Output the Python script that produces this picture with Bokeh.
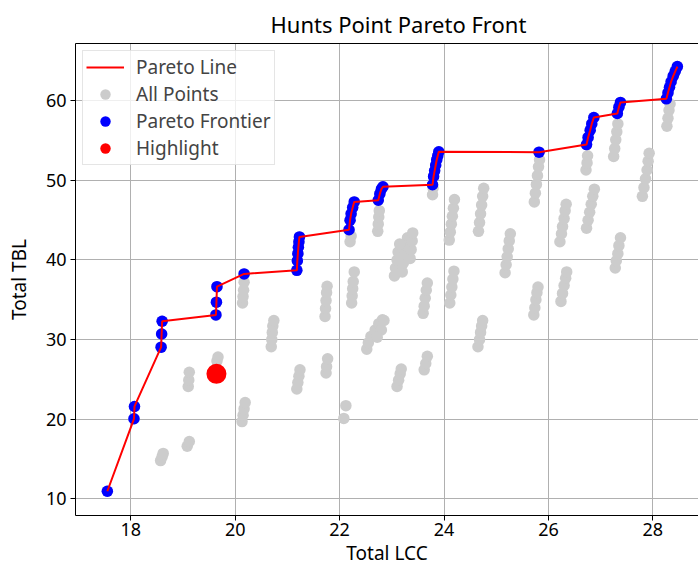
from bokeh.plotting import figure
from bokeh.models import (Legend, LegendItem, LinearAxis, FixedTicker, Range1d)
from bokeh.embed import file_html
from bokeh.resources import INLINE

# ---- data ----
# Pareto frontier points (sorted by Total LCC); the Pareto line joins them
front_lcc = [17.55,
             18.06, 18.07,
             18.58, 18.59, 18.60,
             19.63, 19.64, 19.65,
             20.17,
             21.18, 21.19, 21.20, 21.21, 21.22, 21.23,
             22.18, 22.20, 22.22, 22.25, 22.28,
             22.74, 22.77, 22.80, 22.83,
             23.78, 23.80, 23.82, 23.84, 23.86, 23.88, 23.90,
             25.82,
             26.73, 26.76, 26.80, 26.83, 26.87,
             27.32, 27.35, 27.38,
             28.26, 28.29, 28.32, 28.35, 28.39, 28.43, 28.47]
front_tbl = [10.95,
             20.05, 21.6,
             29.05, 30.7, 32.3,
             33.1, 34.7, 36.65,
             38.25,
             38.7, 39.9, 40.8, 41.6, 42.3, 42.9,
             43.8, 45.0, 45.8, 46.6, 47.3,
             47.5, 48.3, 48.9, 49.2,
             49.45, 50.5, 51.2, 51.9, 52.6, 53.1, 53.6,
             53.55,
             54.5, 55.4, 56.3, 57.1, 57.9,
             58.4, 59.2, 59.8,
             60.25, 61.0, 61.7, 62.4, 63.1, 63.7, 64.3]

# dominated solutions (grey), cluster by cluster
other_lcc = [18.57, 18.60, 18.62,
             19.08, 19.12,
             19.10, 19.11, 19.12,
             19.65, 19.67,
             20.13, 20.15, 20.17, 20.19,
             20.14, 20.15, 20.16, 20.17,
             20.69, 20.70, 20.71, 20.72, 20.74,
             21.18, 21.20, 21.22, 21.24,
             21.72, 21.73, 21.74, 21.75, 21.76,
             21.74, 21.75, 21.77,
             22.08, 22.12,
             22.23, 22.24, 22.25, 22.26, 22.28,
             22.20, 22.22,
             22.73, 22.74, 22.75, 22.76,
             23.05, 23.07, 23.10, 23.12, 23.20, 23.22, 23.25, 23.27, 23.30,
             23.35, 23.37, 23.39, 23.40, 23.15,
             22.52, 22.55, 22.60, 22.68, 22.75, 22.82, 22.80, 22.72, 22.85,
             23.60, 23.62, 23.64, 23.66, 23.68,
             23.62, 23.65, 23.68,
             23.10, 23.13, 23.16, 23.18,
             24.10, 24.12, 24.14, 24.16, 24.18, 24.20,
             24.11, 24.13, 24.15, 24.17, 24.19,
             23.78, 23.79,
             24.66, 24.68, 24.70, 24.72, 24.74, 24.76,
             24.65, 24.68, 24.70, 24.72, 24.74,
             25.17, 25.19, 25.21, 25.23, 25.25, 25.27,
             25.72, 25.74, 25.76, 25.78, 25.80,
             25.73, 25.75, 25.77, 25.79, 25.81, 25.83,
             26.22, 26.25, 26.27, 26.30, 26.32, 26.34,
             26.24, 26.27, 26.30, 26.33, 26.35,
             26.72, 26.74, 26.75,
             26.73, 26.76, 26.79, 26.82, 26.85, 26.88,
             27.28, 27.30, 27.33, 27.35, 27.38,
             27.25, 27.27, 27.29, 27.31, 27.33,
             27.80, 27.83, 27.86, 27.89, 27.91, 27.93,
             28.27, 28.29, 28.31, 28.33]
other_tbl = [14.8, 15.3, 15.7,
             16.6, 17.2,
             24.1, 24.9, 25.9,
             27.3, 27.8,
             19.7, 20.5, 21.3, 22.1,
             34.6, 35.4, 36.2, 37.2,
             29.1, 30.0, 30.9, 31.7, 32.4,
             23.8, 24.6, 25.4, 26.2,
             32.9, 33.9, 34.9, 35.9, 36.7,
             25.8, 26.6, 27.6,
             20.1, 21.7,
             34.6, 35.5, 36.4, 37.3, 38.5,
             42.3, 43.0,
             43.6, 44.5, 45.4, 46.2,
             38.0, 39.0, 40.0, 41.0, 38.5, 39.6, 40.7, 41.8, 42.8,
             40.2, 41.3, 42.4, 43.4, 42.0,
             28.8, 29.6, 30.4, 31.2, 32.0, 32.5, 31.2, 30.3, 32.4,
             33.3, 34.2, 35.2, 36.2, 37.1,
             26.2, 27.0, 27.9,
             24.1, 24.9, 25.7, 26.3,
             42.5, 43.5, 44.5, 45.5, 46.5, 47.6,
             34.6, 35.6, 36.6, 37.6, 38.6,
             48.2, 49.0,
             43.6, 44.7, 45.8, 46.9, 48.0, 49.0,
             29.1, 30.0, 30.9, 31.7, 32.4,
             38.4, 39.4, 40.4, 41.4, 42.4, 43.3,
             33.1, 34.0, 35.0, 35.9, 36.6,
             47.3, 48.4, 49.5, 50.6, 51.7, 52.6,
             42.3, 43.3, 44.2, 45.2, 46.2, 47.0,
             34.8, 35.8, 36.8, 37.7, 38.5,
             51.3, 52.2, 53.1,
             44.0, 45.0, 46.0, 47.0, 48.0, 48.9,
             39.0, 39.9, 40.8, 41.8, 42.8,
             53.0, 54.0, 55.1, 56.1, 57.1,
             48.0, 49.1, 50.2, 51.3, 52.4, 53.4,
             56.8, 57.8, 58.8, 59.6]

all_lcc = other_lcc + front_lcc
all_tbl = other_tbl + front_tbl

highlight_lcc = [19.64]
highlight_tbl = [25.7]

x_ticks = [18, 20, 22, 24, 26, 28]
y_ticks = [10, 20, 30, 40, 50, 60]

FONT = "Noto Sans"

p = figure(width=698, height=570, output_backend="svg", toolbar_location=None,
           x_range=Range1d(16.94, 28.875), y_range=Range1d(7.9, 67.2),
           min_border_left=75, min_border_right=0, min_border_top=43,
           min_border_bottom=55, title="Hunts Point Pareto Front")
p.outline_line_color = None
p.background_fill_color = "white"

p.title.align = "left"
p.title.offset = 195
p.title.text_font = FONT
p.title.text_font_size = "22px"
p.title.text_font_style = "normal"
p.title.text_color = "black"

for ax, ticks, lab in ((p.xaxis[0], x_ticks, "Total LCC"), (p.yaxis[0], y_ticks, "Total TBL")):
    ax.ticker = FixedTicker(ticks=ticks)
    ax.axis_label = lab
    ax.axis_label_text_font = FONT
    ax.axis_label_text_font_size = "19px"
    ax.axis_label_text_font_style = "normal"
    ax.axis_label_text_color = "black"
    ax.major_label_text_font = FONT
    ax.major_label_text_font_size = "18px"
    ax.major_label_text_color = "black"
    ax.major_tick_out = 5
    ax.major_tick_in = 0
    ax.minor_tick_out = 0
    ax.minor_tick_in = 0
    ax.axis_line_color = "black"
    ax.major_tick_line_color = "black"

p.xaxis[0].major_label_standoff = 2
p.xaxis[0].axis_label_standoff = 1
p.yaxis[0].major_label_standoff = 4
p.yaxis[0].axis_label_standoff = 11

top_ax = LinearAxis(ticker=FixedTicker(ticks=[]), major_tick_out=0, major_tick_in=0,
                    minor_tick_out=0, minor_tick_in=0, major_label_text_font_size="0px",
                    axis_line_color="black")
p.add_layout(top_ax, "above")

p.xgrid.ticker = FixedTicker(ticks=x_ticks)
p.ygrid.ticker = FixedTicker(ticks=y_ticks)
p.grid.grid_line_color = "#b0b0b0"
p.grid.grid_line_width = 1

r_all = p.scatter(all_lcc, all_tbl, size=11.5, color="#cccccc", line_color=None)
r_front = p.scatter(front_lcc, front_tbl, size=11.5, color="blue", line_color=None)
r_line = p.line(front_lcc, front_tbl, line_color="red", line_width=2)
r_hi = p.scatter(highlight_lcc, highlight_tbl, size=20, color="red", line_color=None)

legend = Legend(items=[LegendItem(label="Pareto Line", renderers=[r_line]),
                       LegendItem(label="All Points", renderers=[r_all]),
                       LegendItem(label="Pareto Frontier", renderers=[r_front]),
                       LegendItem(label="Highlight", renderers=[r_hi])],
                location="top_left")
legend.margin = 7
legend.padding = 3
legend.spacing = 1
legend.glyph_height = 26
legend.label_height = 26
legend.glyph_width = 38
legend.label_standoff = 12
legend.label_text_font = FONT
legend.label_text_font_size = "19px"
legend.border_line_color = "#cccccc"
legend.background_fill_alpha = 0.8
p.add_layout(legend)

open("out.html", "w").write(file_html(p, INLINE))
